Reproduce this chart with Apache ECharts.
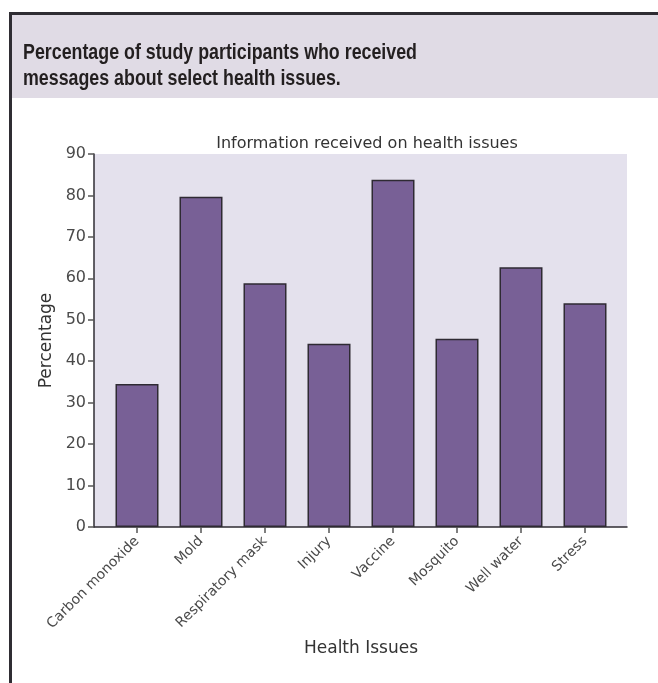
<!DOCTYPE html>
<html>
<head>
<meta charset="utf-8">
<script src="https://cdn.jsdelivr.net/npm/echarts@6/dist/echarts.min.js"></script>
<style>
html,body{margin:0;padding:0;background:#fff;}
#chart{width:658px;height:683px;}
</style>
</head>
<body>
<div id="chart"></div>
<script>
var categories = ['Carbon monoxide','Mold','Respiratory mask','Injury','Vaccine','Mosquito','Well water','Stress'];
var percentages = [34.5, 79.7, 58.8, 44.2, 83.8, 45.4, 62.7, 54.0];
var yTicks = [0, 10, 20, 30, 40, 50, 60, 70, 80, 90];
var headerLines = ['Percentage of study participants who received', 'messages about select health issues.'];
var chartTitle = 'Information received on health issues';
var yName = 'Percentage';
var xName = 'Health Issues';

var yMin = yTicks[0], yMax = yTicks[yTicks.length - 1], yStep = yTicks[1] - yTicks[0];
var textFont = "'DejaVu Sans', sans-serif";
var headFont = "bold 22px 'Liberation Sans', Arial, sans-serif";

// horizontal condensing factor so the header's first line spans ~394px like the reference
var mctx = document.createElement('canvas').getContext('2d');
mctx.font = headFont;
var headScale = 394 / mctx.measureText(headerLines[0]).width;

var chart = echarts.init(document.getElementById('chart'), null, {renderer: 'canvas'});
chart.setOption({
  animation: false,
  backgroundColor: '#ffffff',
  graphic: [
    {type: 'rect', shape: {x: 12, y: 15, width: 646, height: 83}, style: {fill: '#e0dbe5'}, z: -10},
    {type: 'rect', shape: {x: 9, y: 12, width: 649, height: 3}, style: {fill: '#2f2d33'}},
    {type: 'rect', shape: {x: 9, y: 12, width: 3, height: 671}, style: {fill: '#2f2d33'}},
    {type: 'text', x: 23, y: 42, scaleX: headScale, style: {text: headerLines[0], font: headFont, fill: '#231f20'}},
    {type: 'text', x: 23, y: 68, scaleX: headScale, style: {text: headerLines[1], font: headFont, fill: '#231f20'}}
  ],
  title: [
    {
      text: chartTitle,
      left: 362, top: 131, textAlign: 'center',
      textStyle: {fontFamily: textFont, fontWeight: 'normal', fontSize: 16, color: '#333333'}
    }
  ],
  grid: [
    {left: 94, top: 154, width: 533, height: 373, show: true, backgroundColor: '#e4e1ed', borderWidth: 0},
    {left: 105, top: 154, width: 512, height: 373}
  ],
  xAxis: [
    {
      type: 'value', gridIndex: 0, min: 0, max: 1,
      axisLine: {show: true, lineStyle: {color: '#2f2d33', width: 1.5}},
      axisTick: {show: false}, axisLabel: {show: false}, splitLine: {show: false}
    },
    {
      type: 'category', gridIndex: 1, data: categories,
      axisLine: {show: false},
      axisTick: {show: true, alignWithLabel: true, length: 6, lineStyle: {color: '#555555', width: 1.5}},
      axisLabel: {rotate: 45, margin: 12, fontSize: 14, fontFamily: textFont, color: '#4a4a4a', interval: 0},
      name: xName, nameLocation: 'middle', nameGap: 113,
      nameTextStyle: {fontSize: 17, fontFamily: textFont, color: '#333333'}
    }
  ],
  yAxis: [
    {
      type: 'value', gridIndex: 0, min: yMin, max: yMax, interval: yStep,
      axisLine: {show: true, lineStyle: {color: '#2f2d33', width: 1.5}},
      axisTick: {show: true, length: 6, lineStyle: {color: '#555555', width: 1.5}},
      axisLabel: {margin: 8, fontSize: 16, fontFamily: textFont, color: '#4a4a4a'},
      splitLine: {show: false},
      name: yName, nameLocation: 'middle', nameGap: 38, nameRotate: 90,
      nameTextStyle: {fontSize: 17, fontFamily: textFont, color: '#333333'}
    },
    {
      type: 'value', gridIndex: 1, min: yMin, max: yMax, interval: yStep, show: false
    }
  ],
  series: [{
    type: 'bar', xAxisIndex: 1, yAxisIndex: 1,
    data: percentages, barWidth: 43,
    itemStyle: {color: '#786096', borderColor: '#2e2a33', borderWidth: 1.5}
  }]
});
</script>
</body>
</html>
